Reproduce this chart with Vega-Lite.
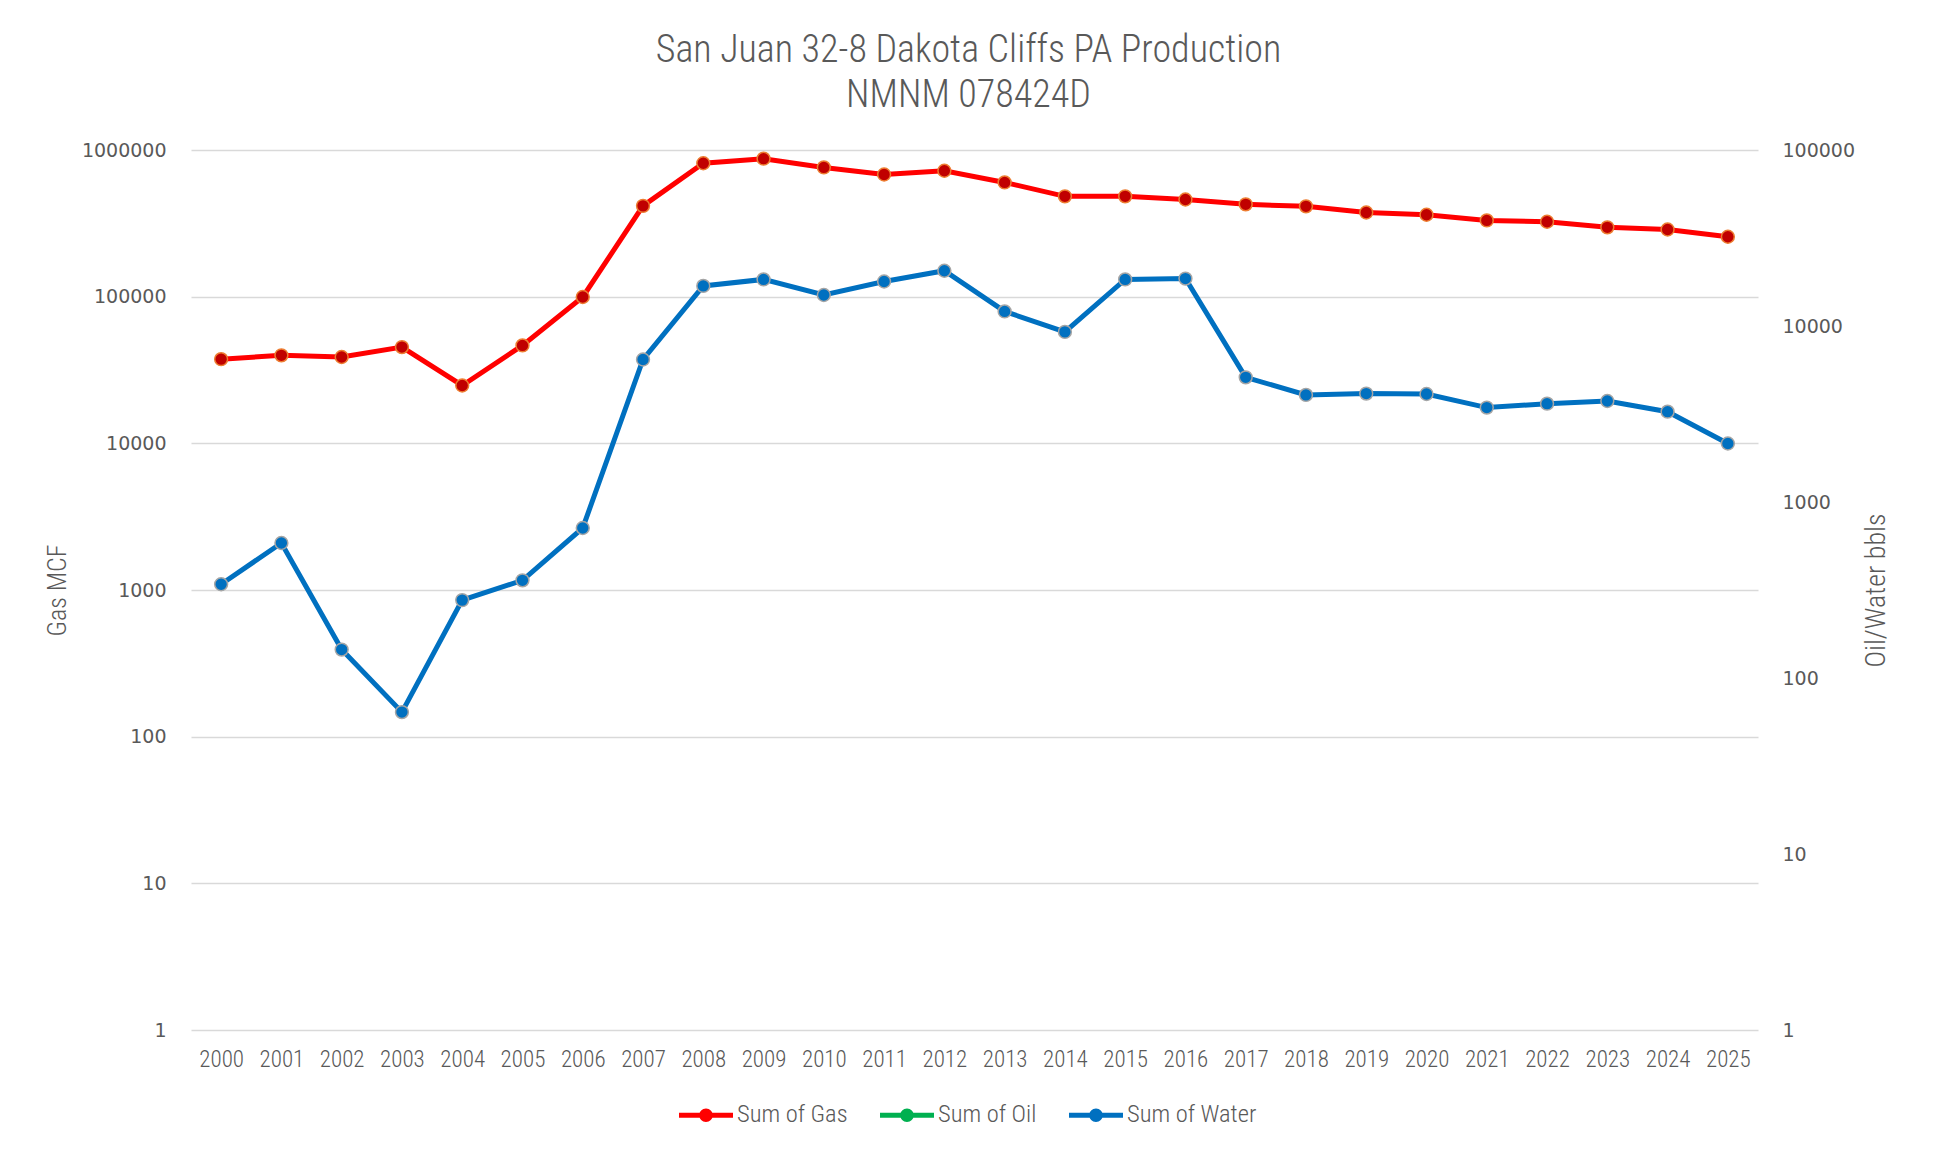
{
 "$schema": "https://vega.github.io/schema/vega-lite/v6.json",
 "width": 1567,
 "height": 880,
 "autosize": {"type": "none"},
 "padding": {"left": 191, "top": 150, "right": 175, "bottom": 119},
 "background": "#ffffff",
 "config": {"view": {"stroke": null}, "font": "Roboto Condensed, DejaVu Sans Condensed, Roboto"},
 "title": {
  "text": ["San Juan 32-8 Dakota Cliffs PA Production", "NMNM 078424D"],
  "font": "Roboto Condensed, DejaVu Sans Condensed, Roboto",
  "fontSize": 38,
  "fontWeight": 300,
  "color": "#595959",
  "lineHeight": 45,
  "anchor": "middle",
  "dx": -6,
  "offset": 26
 },
 "data": {
  "values": [
   {"year": 2000, "gas": 37500, "water": 341},
   {"year": 2001, "gas": 39800, "water": 585},
   {"year": 2002, "gas": 38800, "water": 145},
   {"year": 2003, "gas": 45300, "water": 64},
   {"year": 2004, "gas": 24800, "water": 277},
   {"year": 2005, "gas": 46500, "water": 359},
   {"year": 2006, "gas": 99500, "water": 712},
   {"year": 2007, "gas": 416000, "water": 6450},
   {"year": 2008, "gas": 812000, "water": 16900},
   {"year": 2009, "gas": 873000, "water": 18400},
   {"year": 2010, "gas": 761000, "water": 15000},
   {"year": 2011, "gas": 681000, "water": 17900},
   {"year": 2012, "gas": 722000, "water": 20600},
   {"year": 2013, "gas": 601000, "water": 12100},
   {"year": 2014, "gas": 483000, "water": 9260},
   {"year": 2015, "gas": 483000, "water": 18400},
   {"year": 2016, "gas": 460000, "water": 18600},
   {"year": 2017, "gas": 426000, "water": 5110},
   {"year": 2018, "gas": 413000, "water": 4060},
   {"year": 2019, "gas": 375000, "water": 4130},
   {"year": 2020, "gas": 362000, "water": 4110},
   {"year": 2021, "gas": 331000, "water": 3440},
   {"year": 2022, "gas": 324000, "water": 3620},
   {"year": 2023, "gas": 297000, "water": 3750},
   {"year": 2024, "gas": 287000, "water": 3260},
   {"year": 2025, "gas": 256000, "water": 2150}
  ]
 },
 "encoding": {
  "x": {
   "field": "year",
   "type": "ordinal",
   "axis": {
    "title": null,
    "labelAngle": 0,
    "domain": false,
    "ticks": false,
    "labelFont": "Roboto Condensed, DejaVu Sans Condensed, Roboto",
    "labelFontSize": 23,
    "labelFontWeight": 300,
    "labelColor": "#595959",
    "labelPadding": 18
   }
  }
 },
 "layer": [
  {
   "encoding": {
    "y": {
     "field": "gas",
     "type": "quantitative",
     "scale": {"type": "log", "domain": [1, 1000000]},
     "axis": {
      "orient": "left",
      "title": "Gas MCF",
      "values": [1, 10, 100, 1000, 10000, 100000, 1000000],
      "format": "d",
      "grid": true,
      "gridColor": "#D9D9D9",
      "gridWidth": 1.3,
      "domain": false,
      "ticks": false,
      "labelFont": "DejaVu Sans",
      "labelFontSize": 19,
      "labelColor": "#595959",
      "labelPadding": 25,
      "titleFont": "Roboto Condensed, DejaVu Sans Condensed, Roboto",
      "titleFontSize": 26,
      "titleFontWeight": 300,
      "titleColor": "#595959",
      "titlePadding": 11
     }
    }
   },
   "layer": [
    {
     "mark": {"type": "line", "strokeWidth": 5},
     "encoding": {
      "color": {
       "datum": "Sum of Gas",
       "type": "nominal",
       "scale": {
        "domain": ["Sum of Gas", "Sum of Oil", "Sum of Water"],
        "range": ["#FF0000", "#00B050", "#0070C0"]
       },
       "legend": {
        "title": null,
        "orient": "none",
        "legendX": 488,
        "legendY": 938,
        "direction": "horizontal",
        "symbolType": "M-1,-0.09H1V0.09H-1Z M0.25,0A0.25,0.25,0,1,1,-0.25,0A0.25,0.25,0,1,1,0.25,0Z",
        "symbolSize": 2916,
        "symbolStrokeWidth": 0,
        "labelFont": "Roboto Condensed, DejaVu Sans Condensed, Roboto",
        "labelFontSize": 24.5,
        "labelFontWeight": 300,
        "labelColor": "#595959",
        "labelOffset": 4,
        "columnPadding": 32,
        "encode": {
         "symbols": {
          "update": {
           "fill": {"scale": "color", "field": "value"},
           "strokeWidth": {"value": 0},
           "opacity": {"value": 1}
          }
         }
        }
       }
      }
     }
    },
    {
     "mark": {"type": "point", "filled": true, "size": 165, "fill": "#C00000", "stroke": "#ED7D31", "strokeWidth": 1.5, "opacity": 1}
    }
   ]
  },
  {
   "encoding": {
    "y": {
     "field": "water",
     "type": "quantitative",
     "scale": {"type": "log", "domain": [1, 100000]},
     "axis": {
      "orient": "right",
      "title": "Oil/Water bbls",
      "values": [1, 10, 100, 1000, 10000, 100000],
      "format": "d",
      "grid": false,
      "domain": false,
      "ticks": false,
      "labelFont": "DejaVu Sans",
      "labelFontSize": 19,
      "labelColor": "#595959",
      "labelPadding": 24,
      "titleFont": "Roboto Condensed, DejaVu Sans Condensed, Roboto",
      "titleFontSize": 28,
      "titleFontWeight": 300,
      "titleColor": "#595959",
      "titleAngle": 270,
      "titlePadding": 36
     }
    }
   },
   "layer": [
    {
     "mark": {"type": "line", "strokeWidth": 5},
     "encoding": {"color": {"datum": "Sum of Water", "type": "nominal"}}
    },
    {
     "mark": {"type": "point", "filled": true, "size": 165, "fill": "#0070C0", "stroke": "#A5A5A5", "strokeWidth": 1.5, "opacity": 1}
    }
   ]
  }
 ],
 "resolve": {"scale": {"y": "independent"}}
}
